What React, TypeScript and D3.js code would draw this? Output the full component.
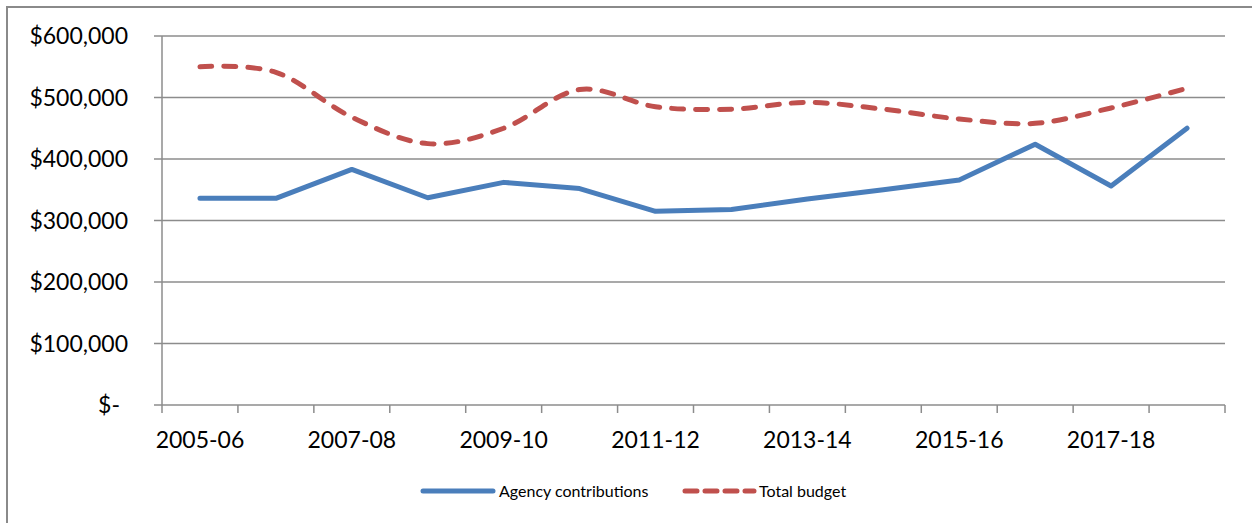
import * as d3 from "d3";

const categories = [
  "2005-06", "2006-07", "2007-08", "2008-09", "2009-10", "2010-11", "2011-12",
  "2012-13", "2013-14", "2014-15", "2015-16", "2016-17", "2017-18", "2018-19"
];
const agencyContributions = [
  336000, 336000, 383000, 337000, 362000, 352000, 315000,
  318000, 335000, 350000, 366000, 424000, 356000, 450000
];
const totalBudget = [
  550000, 541000, 468000, 425000, 450000, 513000, 485000,
  481000, 492000, 481000, 465000, 458000, 483000, 515000
];
const yTicks = [0, 100000, 200000, 300000, 400000, 500000, 600000];

const W = 1252;
const H = 523;
const left = 162, right = 1225, top = 36, bottom = 405;
const font = "Lato, 'Open Sans', sans-serif";
const gridColor = "#8c8c8c";
const blue = "#4a7ebb";
const red = "#c0504d";

export default function App() {
  const x = d3.scaleBand<string>().domain(categories).range([left, right]).padding(0);
  const y = d3.scaleLinear().domain([0, 600000]).range([bottom, top]);
  const cx = (i: number) => (x(categories[i]) as number) + x.bandwidth() / 2;

  const agencyLine = d3.line<number>()
    .x((_, i) => cx(i))
    .y(d => y(d));
  const totalLine = d3.line<number>()
    .x((_, i) => cx(i))
    .y(d => y(d))
    .curve(d3.curveCatmullRom.alpha(0));

  const fmt = (v: number) => (v === 0 ? "$-" : "$" + d3.format(",")(v));
  const boundaries = categories.map(c => x(c) as number).concat([right]);

  return (
    <svg
      width={W}
      height={H}
      style={{ position: "absolute", left: 0, top: 0, background: "#fff" }}
      fontFamily={font}
    >
      <rect x={7} y={7} width={W + 20} height={H + 20} fill="#fff" stroke="#8a8a8a" strokeWidth={2} />

      {/* gridlines + y ticks */}
      {yTicks.map(t => (
        <g key={t}>
          <line x1={left - 8} x2={right} y1={y(t)} y2={y(t)} stroke={gridColor} strokeWidth={1.5} />
          <text
            x={left - 34}
            dx={t === 0 ? -8 : 0}
            y={y(t)}
            dy="0.36em"
            textAnchor="end"
            fontSize={23}
            fill="#000"
          >
            {fmt(t)}
          </text>
        </g>
      ))}

      {/* axes */}
      <line x1={left} x2={left} y1={top} y2={bottom} stroke={gridColor} strokeWidth={1.5} />
      {boundaries.map((b, i) => (
        <line key={i} x1={b} x2={b} y1={bottom} y2={bottom + 8} stroke={gridColor} strokeWidth={1.5} />
      ))}
      {categories.map((c, i) =>
        i % 2 === 0 ? (
          <text key={c} x={cx(i)} y={448} textAnchor="middle" fontSize={23} fill="#000">
            {c}
          </text>
        ) : null
      )}

      {/* series */}
      <path d={agencyLine(agencyContributions) || ""} fill="none" stroke={blue} strokeWidth={5} strokeLinejoin="round" strokeLinecap="round" />
      <path
        d={totalLine(totalBudget) || ""}
        fill="none"
        stroke={red}
        strokeWidth={5}
        strokeDasharray="12,12"
        strokeLinecap="round"
        strokeLinejoin="round"
      />

      {/* legend */}
      <line x1={423} x2={493} y1={491} y2={491} stroke={blue} strokeWidth={5} strokeLinecap="round" />
      <text x={499} y={497} fontSize={16} fill="#000">Agency contributions</text>
      <line x1={685} x2={754} y1={491} y2={491} stroke={red} strokeWidth={5} strokeLinecap="round" strokeDasharray="12,8" />
      <text x={759} y={497} fontSize={16} fill="#000">Total budget</text>
    </svg>
  );
}
